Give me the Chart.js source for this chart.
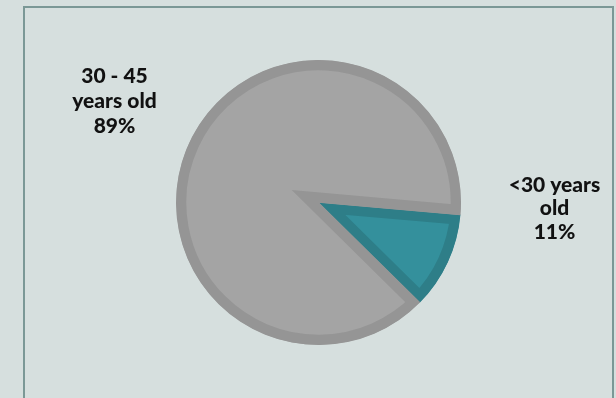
<!DOCTYPE html>
<html>
<head>
<meta charset="utf-8">
<script src="https://cdn.jsdelivr.net/npm/chart.js@4"></script>
<style>
  html, body { margin: 0; padding: 0; background: #d6dfde; }
  #wrap { width: 616px; height: 398px; position: relative; }
</style>
</head>
<body>
<div id="wrap"><canvas id="myChart" width="616" height="398"></canvas></div>
<script>
// 데이터
const labels = ['<30 years old', '30 - 45 years old'];
const values = [11, 89];
const labelLines = [['<30 years', 'old', '11%'], ['30 - 45', 'years old', '89%']];
const fills = ['#34909c', '#a4a4a4'];
const borders = ['#2e7e88', '#959595'];

// 라벨 위치 (파이 중심 기준 오프셋)
const labelOffsets = [{ dx: 236, dy: 6, gap: 23.5 }, { dx: -204, dy: -101, gap: 25 }];

// 배경 + 테두리
const framePlugin = {
  id: 'frame',
  beforeDraw(chart) {
    const c = chart.ctx;
    c.save();
    c.fillStyle = '#d6dfde';
    c.fillRect(0, 0, chart.width, chart.height);
    c.strokeStyle = '#7b9896';
    c.lineWidth = 2;
    c.strokeRect(24, 7, 589, 420);
    c.restore();
  }
};

// 데이터 라벨
const labelPlugin = {
  id: 'pieLabels',
  afterDraw(chart) {
    const c = chart.ctx;
    const arc = chart.getDatasetMeta(0).data[0];
    const cx = arc.x, cy = arc.y;
    c.save();
    c.fillStyle = '#111111';
    c.font = '900 21px Lato';
    c.textAlign = 'center';
    c.textBaseline = 'middle';
    labelLines.forEach((lines, i) => {
      const o = labelOffsets[i];
      lines.forEach((t, j) => {
        c.fillText(t, cx + o.dx, cy + o.dy + (j - 1) * o.gap);
      });
    });
    c.restore();
  }
};

const ctx = document.getElementById('myChart');
new Chart(ctx, {
  type: 'pie',
  data: {
    labels: labels,
    datasets: [{
      data: values,
      backgroundColor: fills,
      borderColor: borders,
      borderWidth: 10,
      borderAlign: 'inner',
      borderJoinStyle: 'miter'
    }]
  },
  options: {
    responsive: false,
    animation: false,
    rotation: 95,
    layout: { padding: { left: 176, right: 155, top: 60, bottom: 53 } },
    plugins: {
      legend: { display: false },
      tooltip: { enabled: false }
    }
  },
  plugins: [framePlugin, labelPlugin]
});
</script>
</body>
</html>
